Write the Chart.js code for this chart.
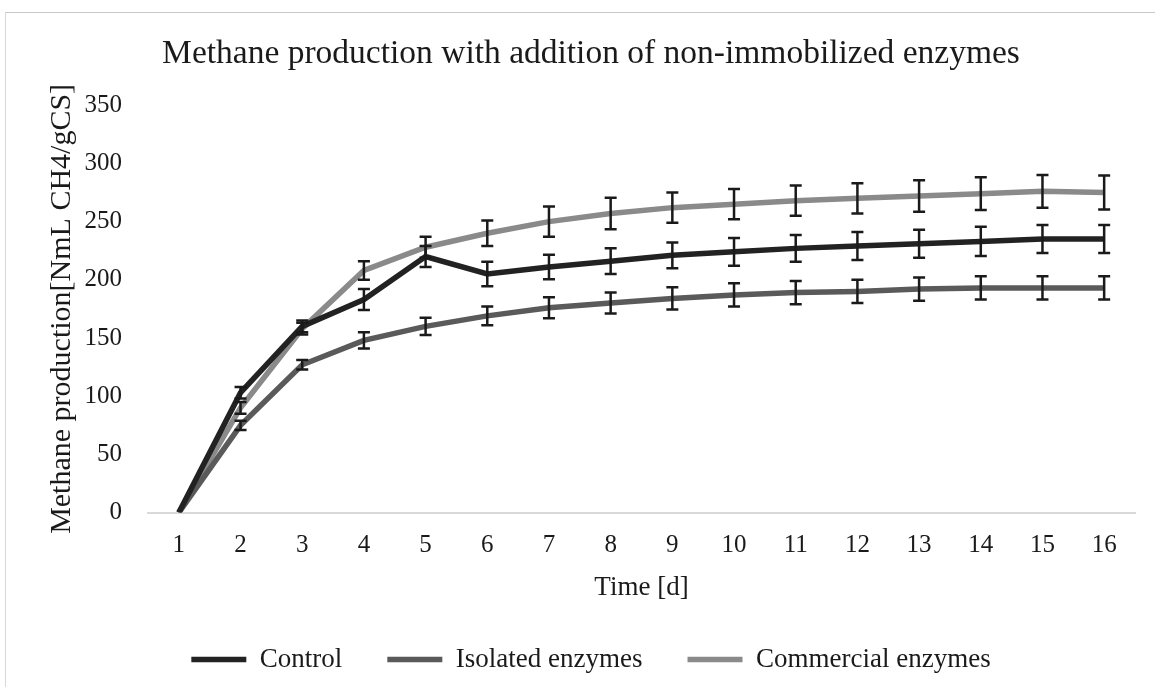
<!DOCTYPE html>
<html>
<head>
<meta charset="utf-8">
<script src="https://cdn.jsdelivr.net/npm/chart.js@4.4.1/dist/chart.umd.min.js"></script>
<style>
  html, body { margin: 0; padding: 0; background: #fff; }
  #wrap { position: relative; width: 1155px; height: 687px; overflow: hidden; }
  #frame { position: absolute; left: 5px; top: 12px; width: 1160px; height: 690px;
           border-top: 1px solid #c8c8c8; border-left: 1px solid #d8d8d8; }
  canvas { position: absolute; left: 0; top: 0; }
</style>
</head>
<body>
<div id="wrap">
  <div id="frame"></div>
  <canvas id="chart" width="1155" height="687"></canvas>
</div>
<script>
// Days on the x axis
const days = ['1', '2', '3', '4', '5', '6', '7', '8', '9', '10', '11', '12', '13', '14', '15', '16'];

// Cumulative methane production [NmL CH4/gCS]
const control = [0, 103, 160, 183, 220, 205, 211, 216, 221, 224, 227, 229, 231, 233, 235, 235];
const isolated = [0, 75, 127, 148, 160, 169, 176, 180, 184, 187, 189, 190, 192, 193, 193, 193];
const commercial = [0, 90, 158, 208, 228, 240, 250, 257, 262, 265, 268, 270, 272, 274, 276, 275];

// Standard deviations (error bars)
const controlErr = [0, 5, 5, 9, 9, 10.5, 10.5, 11, 11, 12, 11.5, 12, 12, 12.5, 12, 12];
const isolatedErr = [0, 4, 4, 7, 7.5, 8, 9, 9, 9.5, 10, 10, 10, 10, 10, 10, 10];
const commercialErr = [0, 5, 5, 8, 9, 11, 13, 13.5, 13, 13, 13, 13, 13.5, 14, 14, 14.5];

const yTicks = [0, 50, 100, 150, 200, 250, 300, 350];

const serif = '"Liberation Serif", "DejaVu Serif", serif';

// Draws vertical error bars with caps using the chart's own scales
const errorBarPlugin = {
    id: 'errorBars',
    afterDatasetsDraw(chart) {
        const ctx = chart.ctx;
        const xScale = chart.scales.x;
        const yScale = chart.scales.y;
        ctx.save();
        ctx.strokeStyle = '#1a1a1a';
        ctx.lineWidth = 2.5;
        chart.data.datasets.forEach((ds) => {
            ds.data.forEach((v, i) => {
                const e = ds.errors[i];
                if (!e) return;
                const x = xScale.getPixelForValue(i);
                const yTop = yScale.getPixelForValue(v + e);
                const yBot = yScale.getPixelForValue(v - e);
                ctx.beginPath();
                ctx.moveTo(x, yTop);
                ctx.lineTo(x, yBot);
                ctx.moveTo(x - 6, yTop);
                ctx.lineTo(x + 6, yTop);
                ctx.moveTo(x - 6, yBot);
                ctx.lineTo(x + 6, yBot);
                ctx.stroke();
            });
        });
        ctx.restore();
    }
};

const makeSet = (label, data, errors, color) => ({
    label: label,
    data: data,
    errors: errors,
    borderColor: color,
    backgroundColor: color,
    borderWidth: 5.5,
    pointRadius: 0,
    pointStyle: 'line',
    tension: 0,
    fill: false
});

new Chart(document.getElementById('chart').getContext('2d'), {
    type: 'line',
    data: {
        labels: days,
        datasets: [
            makeSet('Control', control, controlErr, '#222222'),
            makeSet('Isolated enzymes', isolated, isolatedErr, '#5a5a5a'),
            makeSet('Commercial enzymes', commercial, commercialErr, '#8a8a8a')
        ]
    },
    options: {
        responsive: false,
        animation: false,
        layout: { padding: { left: 47, right: 20, top: 0, bottom: 4 } },
        plugins: {
            title: {
                display: true,
                text: 'Methane production with addition of non-immobilized enzymes',
                color: '#1a1a1a',
                font: { family: serif, size: 33.5, weight: 'normal' },
                padding: { top: 34, bottom: 31 }
            },
            legend: {
                position: 'bottom',
                labels: {
                    color: '#1a1a1a',
                    font: { family: serif, size: 27 },
                    usePointStyle: true,
                    pointStyleWidth: 55,
                    boxHeight: 6,
                    padding: 45
                }
            },
            tooltip: { enabled: false }
        },
        scales: {
            x: {
                offset: true,
                grid: { display: false, drawTicks: false },
                border: { color: '#d9d9d9', width: 2 },
                ticks: { color: '#1a1a1a', font: { family: serif, size: 25 }, padding: 18 },
                title: {
                    display: true,
                    text: 'Time [d]',
                    color: '#1a1a1a',
                    font: { family: serif, size: 27 },
                    padding: { top: -7, bottom: -3 }
                }
            },
            y: {
                min: 0,
                max: 350,
                afterBuildTicks: (axis) => { axis.ticks = yTicks.map(v => ({ value: v })); },
                grid: { display: false, drawTicks: false },
                border: { display: false },
                ticks: { color: '#1a1a1a', font: { family: serif, size: 25 }, padding: 26 },
                title: {
                    display: true,
                    text: 'Methane production[NmL CH4/gCS]',
                    color: '#1a1a1a',
                    font: { family: serif, size: 30, lineHeight: 1 },
                    padding: { top: 0, bottom: -18.5 }
                }
            }
        }
    },
    plugins: [errorBarPlugin]
});
</script>
</body>
</html>
